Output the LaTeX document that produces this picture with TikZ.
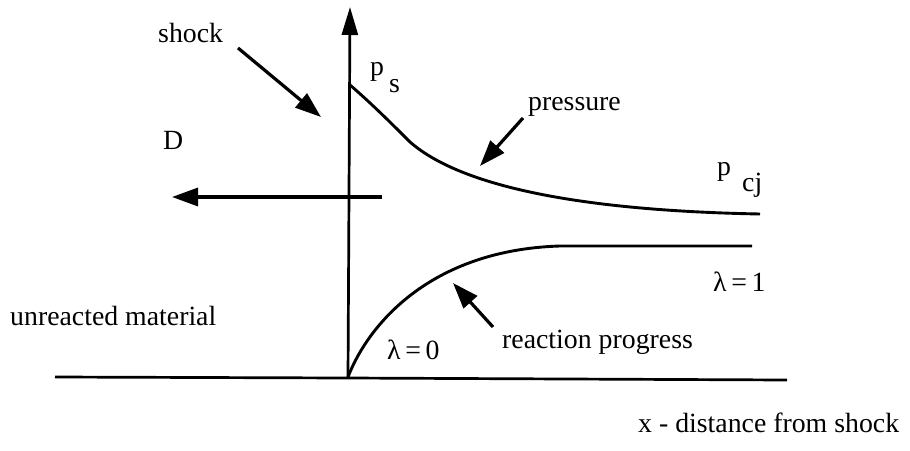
\documentclass[tikz,border=0pt]{standalone}
\usepackage{fontspec}
\setmainfont{Liberation Serif}
\usetikzlibrary{arrows.meta}
\begin{document}
\begin{tikzpicture}[x=1pt,y=-1pt,
  lbl/.style={anchor=base west, inner sep=0pt, font=\fontsize{27.8}{30}\selectfont},
  axisline/.style={line width=2.7pt},
  curve/.style={line width=2.9pt, line join=round},
  arr/.style={line width=3.2pt, -{Triangle[length=26pt,width=18pt]}},
]
\useasboundingbox (0,0) rectangle (910,450);

% axes
\coordinate (O) at (348,378);
\coordinate (ytop) at (350,7);
\coordinate (xl) at (55,377);
\coordinate (xr) at (787,380);
\draw[axisline] (xl) -- (O) -- (xr);
\draw[axisline, -{Triangle[length=28pt,width=16pt]}] (O) -- (ytop);

% D arrow
\coordinate (Dstart) at (382,197);
\coordinate (Dend) at (172,197);
\draw[arr] (Dstart) -- (Dend);

% pressure curve
\coordinate (pS) at (350,85);
\coordinate (pM) at (410,142);
\coordinate (pE) at (760,214);
\draw[curve] (pS) .. controls (372,104) and (392,124) .. (pM)
  .. controls (450,177) and (545,210) .. (pE);

% reaction curve
\coordinate (rS) at (348,377);
\coordinate (rM) at (560,246);
\coordinate (rE) at (752,246);
\draw[curve] (rS) .. controls (368,325) and (430,250) .. (rM) -- (rE);

% labels
\node[lbl] (shock) at (158,42) {shock};
\node[lbl] (D) at (163,149) {D};
\node[lbl] (ps1) at (370,75) {p};
\node[lbl] (ps2) at (389,92) {s};
\node[lbl] (pressure) at (528,110) {pressure};
\node[lbl] (pcj1) at (717,175) {p};
\node[lbl] (pcj2) at (742,191) {cj};
\node[lbl] (lam1) at (713,291) {λ\,=\,1};
\node[lbl] (lam0) at (387,359) {λ\,=\,0};
\node[lbl] (unreacted) at (10,325) {unreacted material};
\node[lbl] (reaction) at (502,348) {reaction progress};
\node[lbl] (xlabel) at (638,432) {x - distance from shock};

% pointer arrows
\coordinate (shA) at (238,48);
\coordinate (shB) at (321,117);
\draw[arr] (shA) -- (shB);
\coordinate (prA) at (523,118);
\coordinate (prB) at (480,166);
\draw[arr] (prA) -- (prB);
\coordinate (reA) at (493,327);
\coordinate (reB) at (453,283);
\draw[arr] (reA) -- (reB);
\end{tikzpicture}
\end{document}
